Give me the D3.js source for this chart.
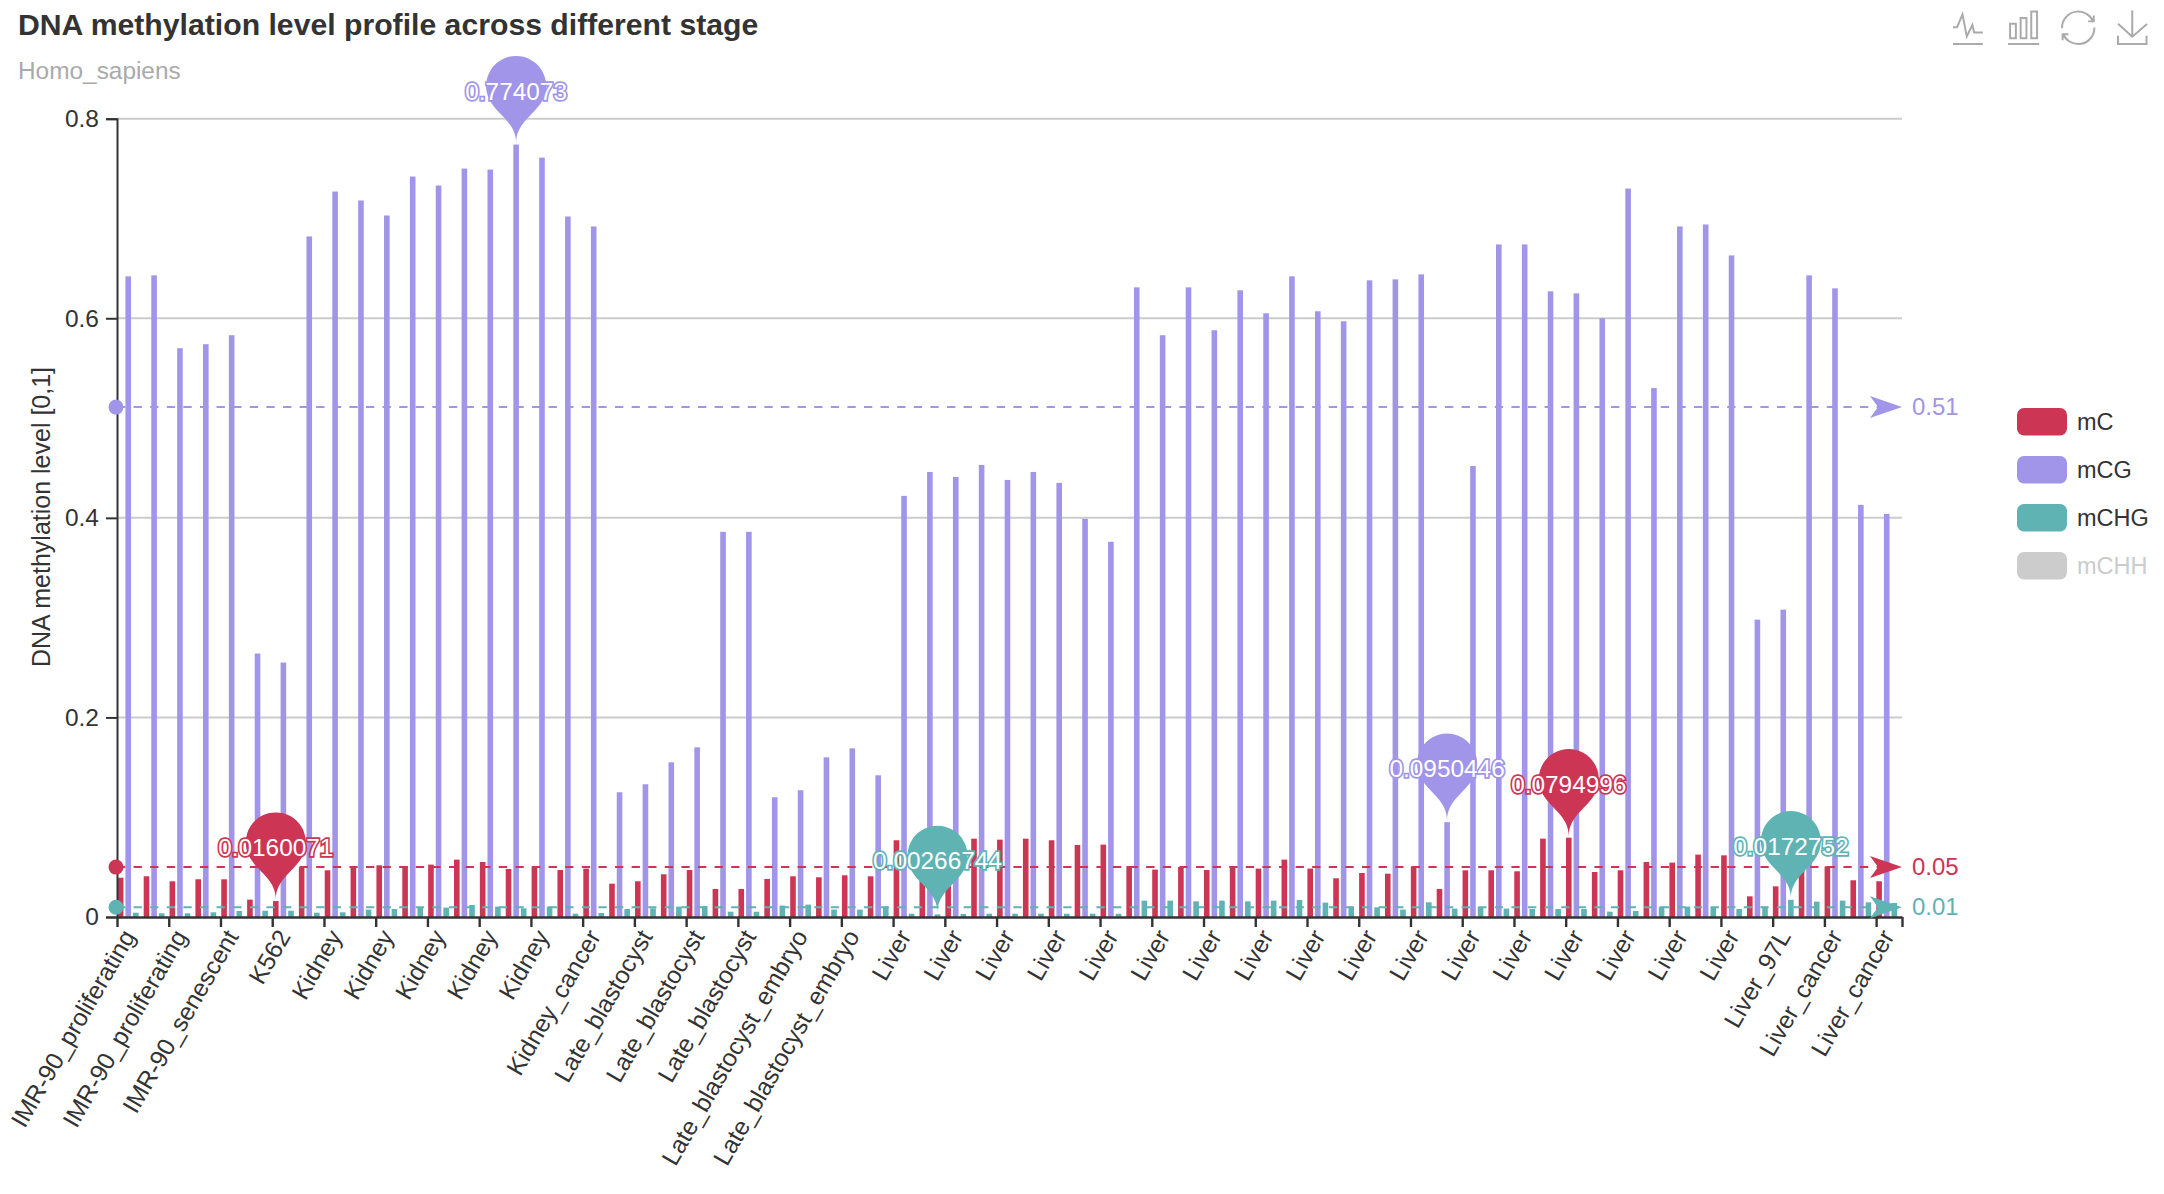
<!DOCTYPE html>
<html><head><meta charset="utf-8">
<script src="https://cdnjs.cloudflare.com/ajax/libs/d3/7.8.5/d3.min.js"></script>
<style>
html,body{margin:0;padding:0;background:#fff}
svg{display:block}
text{font-family:"Liberation Sans",Arial,sans-serif}
</style></head><body>
<div id="c"></div>
<script>
const titleText = "DNA methylation level profile across different stage";
const subtitleText = "Homo_sapiens";
const yTitle = "DNA methylation level [0,1]";
const categories = [
"IMR-90_proliferating","IMR-90_proliferating","IMR-90_proliferating","IMR-90_senescent","IMR-90_senescent","K562","K562",
"Kidney","Kidney","Kidney","Kidney","Kidney","Kidney","Kidney","Kidney","Kidney","Kidney","Kidney_cancer","Kidney_cancer",
"Late_blastocyst","Late_blastocyst","Late_blastocyst","Late_blastocyst","Late_blastocyst","Late_blastocyst",
"Late_blastocyst_embryo","Late_blastocyst_embryo","Late_blastocyst_embryo","Late_blastocyst_embryo","Late_blastocyst_embryo",
"Liver","Liver","Liver","Liver","Liver","Liver","Liver","Liver","Liver","Liver","Liver","Liver","Liver","Liver","Liver","Liver","Liver",
"Liver","Liver","Liver","Liver","Liver","Liver","Liver","Liver","Liver","Liver","Liver","Liver","Liver","Liver","Liver","Liver",
"Liver_97L","Liver_97L","Liver_cancer","Liver_cancer","Liver_cancer","Liver_cancer"];
const mC = [.0394,.0408,.0358,.0378,.0378,.0174,.0160071,.0498,.0468,.0495,.0518,.0511,.0525,.0575,.0551,.0481,.0508,.0471,.0485,
.0334,.0358,.0428,.0471,.0281,.0281,.0381,.0408,.0398,.0418,.0408,.0769,.0690,.0785,.0785,.0775,.0785,.0769,.0722,.0725,
.0511,.0475,.0501,.0471,.0495,.0485,.0575,.0485,.0388,.0441,.0434,.0508,.0281,.0468,.0468,.0458,.0785,.0794996,.0451,.0468,.0551,.0545,.0625,.0618,
.0207,.0307,.0500,.0508,.0368,.0358];
const mCG = [.642,.643,.570,.574,.583,.264,.255,.682,.727,.718,.703,.742,.733,.750,.749,.774073,.761,.702,.692,
.125,.133,.155,.170,.386,.386,.120,.127,.160,.169,.142,.422,.446,.441,.453,.438,.446,.435,.399,.376,
.631,.583,.631,.588,.628,.605,.642,.607,.597,.638,.639,.644,.0950446,.452,.674,.674,.627,.625,.600,.730,.530,.692,.694,.663,
.298,.308,.643,.630,.413,.404];
const mCHG = [.0043,.0037,.0037,.0047,.006,.0063,.0063,.0043,.0047,.0074,.008,.0097,.0094,.012,.0104,.0087,.0104,.0033,.004,
.008,.0087,.0104,.011,.0053,.0053,.0114,.0124,.0074,.0074,.0104,.0033,.00266744,.003,.0033,.0033,.0033,.0033,.0033,.0033,
.0164,.0164,.0157,.0164,.0157,.0164,.017,.0144,.0104,.0097,.0074,.0147,.0084,.01,.0084,.008,.008,.008,.0053,.006,.0104,.0104,.0097,.008,
.0104,.0172752,.0154,.0164,.0147,.014];
const seriesNames = ["mC","mCG","mCHG"];
const seriesValues = [mC,mCG,mCHG];
const seriesColors = ["#cd3555","#a095e8","#5fb3b3"];
const legendNames = ["mC","mCG","mCHG","mCHH"];
const legendColors = ["#cd3555","#a095e8","#5fb3b3","#cccccc"];
const meanValues = [0.05,0.511,0.0097];
const meanLabels = ["0.05","0.51","0.01"];
const yTicks = [0,0.2,0.4,0.6,0.8];
const toolIcons = [
 "M4.1,28.9h7.1l9.3-22l7.4,38l9.7-19.7l3,12.8h14.9M4.1,58h51.4",
 "M6.7,22.9h10V48h-10V22.9zM24.9,13h10v35h-10V13zM43.2,2h10v46h-10V2zM3.1,58h53.7",
 "M47,18.9h9.8V8.7 M56.3,20.1 C52.1,9,40.5,0.6,26.8,2.1C12.6,3.7,1.6,16.2,2.1,30.6 M13,41.1H3.1v10.2 M3.7,39.9c4.2,11.1,15.8,19.5,29.5,18 c14.2-1.6,25.2-14.1,24.7-28.5",
 "M4.7,22.9L29.3,45.5L54.7,23.4M4.6,43.6L4.6,58L53.8,58L53.8,43.6M29.2,45.1L29.2,0"];
const toolX = [1950.6,2006.2,2060.8,2115.3];

const W=2164,H=1194,L=117,R=1902,T=118.7,B=917;
const svg=d3.select("#c").append("svg").attr("width",W).attr("height",H);
const y=d3.scaleLinear().domain([0,0.8]).range([B,T]);
const xTick=d3.scaleLinear().domain([0,categories.length]).range([L,R]);
const x0=d3.scaleBand().domain(d3.range(categories.length)).range([115.3,115.3+25.86*categories.length]);
const x1=d3.scaleBand().domain(seriesNames).range([2.53,23.33]).paddingInner(0.263);
const band=xTick(1)-xTick(0);

// titles
svg.append("text").attr("x",18).attr("y",35).attr("font-size",30.2).attr("font-weight","bold").attr("fill","#333").text(titleText);
svg.append("text").attr("x",18).attr("y",79).attr("font-size",24.4).attr("fill","#aaa").text(subtitleText);

// grid
svg.append("g").selectAll("line").data(yTicks.slice(1)).join("line")
 .attr("x1",L).attr("x2",R).attr("y1",d=>y(d)).attr("y2",d=>y(d)).attr("stroke","#ccc").attr("stroke-width",2);

// bars
seriesNames.forEach((s,k)=>{
 svg.append("g").selectAll("rect").data(seriesValues[k]).join("rect")
  .attr("x",(d,i)=>x0(i)+x1(s)).attr("width",x1.bandwidth())
  .attr("y",d=>y(d)).attr("height",d=>B-y(d)).attr("fill",seriesColors[k]);
});

// axes
const yAxis=d3.axisLeft(y).tickValues(yTicks).tickSize(11).tickPadding(7).tickFormat(d=>d===0?"0":d3.format(".1f")(d));
const gy=svg.append("g").attr("transform",`translate(${L},0)`).call(yAxis);
gy.selectAll("text").attr("font-size",24.5).attr("fill","#333");
gy.selectAll("path,line").attr("stroke","#333").attr("stroke-width",2);
const xTickVals=d3.range(0,categories.length,2).concat([categories.length]);
const xAxis=d3.axisBottom(xTick).tickValues(xTickVals).tickSize(10).tickSizeOuter(0)
 .tickFormat(d=>d<categories.length?categories[d]:"");
const gx=svg.append("g").attr("transform",`translate(0,${B})`).call(xAxis);
gx.selectAll("path,line").attr("stroke","#333").attr("stroke-width",2.4);
gx.selectAll("text").attr("font-size",24.6).attr("fill","#333").attr("text-anchor","end")
 .attr("dy",null).attr("y",null).attr("dominant-baseline","middle")
 .attr("transform",`translate(${band/2},16) rotate(-60)`);

svg.append("text").attr("transform",`translate(43,517) rotate(-90)`).attr("text-anchor","middle")
 .attr("dominant-baseline","middle").attr("font-size",25).attr("fill","#333").text(yTitle);

// mean lines
seriesNames.forEach((s,k)=>{
 const yy=y(meanValues[k]),c=seriesColors[k];
 const g=svg.append("g");
 g.append("line").attr("x1",L).attr("x2",1878).attr("y1",yy).attr("y2",yy).attr("stroke",c).attr("stroke-width",2).attr("stroke-dasharray","8.3 8.3");
 g.append("circle").attr("cx",L-1).attr("cy",yy).attr("r",7.5).attr("fill",c);
 g.append("path").attr("d",`M${R},${yy}L${R-32},${yy-11}L${R-24},${yy}L${R-32},${yy+11}Z`).attr("fill",c);
 g.append("text").attr("x",R+10).attr("y",yy+1.5).attr("dominant-baseline","middle").attr("font-size",24).attr("fill",c).text(meanLabels[k]);
});

// pins
function pinPath(px,py,w,h){
 const r=w/2,dy=r*r/(h-r),cy=py-h+r+dy,a=Math.asin(dy/r),dx=Math.cos(a)*r;
 const tx=Math.sin(a),ty=Math.cos(a),c1=r*0.6,c2=r*0.7;
 const p=d3.path();
 p.moveTo(px-dx,cy+dy);
 p.arc(px,cy,r,Math.PI-a,Math.PI*2+a);
 p.bezierCurveTo(px+dx-tx*c1,cy+dy+ty*c1,px,py-c2,px,py);
 p.bezierCurveTo(px,py-c2,px-dx+tx*c1,cy+dy+ty*c1,px-dx,cy+dy);
 p.closePath();
 return p.toString();
}
seriesNames.forEach((s,k)=>{
 const vals=seriesValues[k];
 [d3.greatestIndex(vals),d3.leastIndex(vals)].forEach(i=>{
  const px=x0(i)+x1(s)+x1.bandwidth()/2,py=y(vals[i])-1.5,c=seriesColors[k];
  svg.append("path").attr("d",pinPath(px,py,60,100)).attr("fill",c);
  svg.append("text").attr("x",px).attr("y",py-50).attr("text-anchor","middle").attr("dominant-baseline","middle")
   .attr("font-size",24.4).attr("fill","#fff").attr("stroke",c).attr("stroke-width",3.4).attr("paint-order","stroke")
   .text(String(vals[i]));
 });
});

// legend
const ly=d3.scaleBand().domain(legendNames).range([408,408+48*4]);
const lg=svg.append("g").selectAll("g").data(legendNames).join("g").attr("transform",d=>`translate(2017,${ly(d)})`);
lg.append("rect").attr("width",50).attr("height",27.5).attr("rx",7).attr("fill",(d,i)=>legendColors[i]);
lg.append("text").attr("x",60).attr("y",15.5).attr("dominant-baseline","middle").attr("font-size",23.5)
 .attr("fill",(d,i)=>i===3?"#ccc":"#333").text(d=>d);

// toolbox
svg.append("g").selectAll("path").data(toolIcons).join("path").attr("d",d=>d)
 .attr("transform",(d,i)=>`translate(${toolX[i]},10.4) scale(.58)`)
 .attr("fill","none").attr("stroke","#aaa").attr("stroke-width",3.4);
</script>
</body></html>
